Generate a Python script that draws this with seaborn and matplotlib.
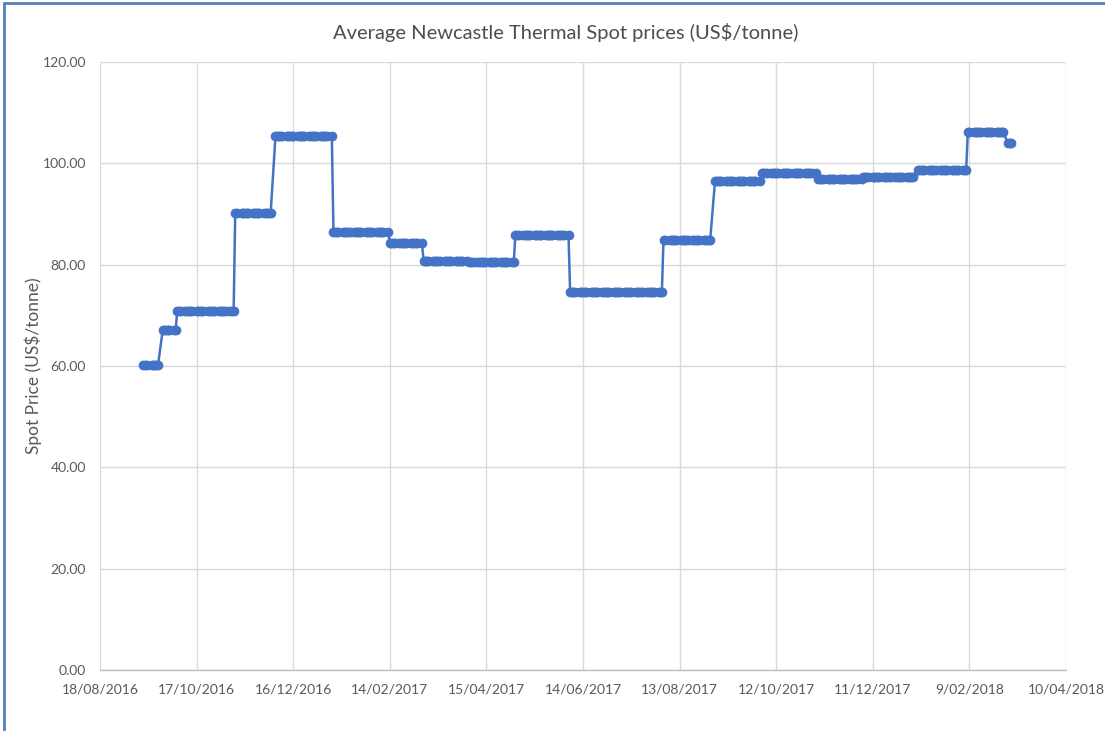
import pandas as pd
import numpy as np
import matplotlib
matplotlib.use("Agg")
import matplotlib.pyplot as plt
import matplotlib.dates as mdates
from matplotlib.ticker import FuncFormatter
import seaborn as sns

# ---------- DATA (step levels) ----------
# each level holds from its start date up to the day before the next start
start_dates = ["2016-09-14", "2016-09-26", "2016-10-05", "2016-11-10", "2016-12-05",
               "2017-01-10", "2017-02-14", "2017-03-07", "2017-04-04", "2017-05-03",
               "2017-06-06", "2017-08-03", "2017-09-04", "2017-10-03", "2017-11-07",
               "2017-12-05", "2018-01-08", "2018-02-08", "2018-03-05"]
last_date = "2018-03-07"
price_levels = [60.1, 67.2, 70.8, 90.2, 105.4,
                86.5, 84.2, 80.7, 80.5, 85.8,
                74.7, 84.9, 96.5, 98.0, 96.9,
                97.4, 98.7, 106.1, 104.0]

x_ticks = ["2016-08-18", "2016-10-17", "2016-12-16", "2017-02-14", "2017-04-15",
           "2017-06-14", "2017-08-13", "2017-10-12", "2017-12-11", "2018-02-09",
           "2018-04-10"]
y_ticks = [0, 20, 40, 60, 80, 100, 120]

# ---------- BUILD DAILY SERIES (business days) ----------
days = pd.bdate_range(start_dates[0], last_date)
starts = pd.to_datetime(start_dates)
idx = np.searchsorted(starts.values, days.values, side="right") - 1
df = pd.DataFrame({"Date": days, "Price": np.array(price_levels)[idx]})

# ---------- STYLE ----------
sns.set_style("white")
plt.rcParams["font.family"] = ["Lato", "DejaVu Sans"]
grey = "#595959"
blue = "#4472C4"

fig = plt.figure(figsize=(11.05, 7.31), dpi=100)
ax = fig.add_axes([100 / 1105, 1 - 670 / 731, 966 / 1105, 608 / 731])

sns.lineplot(data=df, x="Date", y="Price", ax=ax, color=blue, linewidth=1.8,
             marker="o", markersize=6.2, markeredgecolor=blue, markeredgewidth=0.8)

# ---------- AXES ----------
tick_dates = pd.to_datetime(x_ticks)
ax.set_xlim(tick_dates[0], tick_dates[-1])
ax.set_xticks(tick_dates)
ax.xaxis.set_major_formatter(FuncFormatter(
    lambda v, p: (lambda d: f"{d.day}/{d.month:02d}/{d.year}")(mdates.num2date(v))))
ax.set_ylim(0, 120)
ax.set_yticks(y_ticks)
ax.yaxis.set_major_formatter(FuncFormatter(lambda v, p: f"{v:.2f}"))

ax.grid(True, color="#d9d9d9", linewidth=1)
ax.set_axisbelow(True)
for s in ["top", "right", "left"]:
    ax.spines[s].set_visible(False)
ax.spines["bottom"].set_color("#bfbfbf")
ax.spines["bottom"].set_linewidth(1)
ax.tick_params(axis="both", length=0, colors=grey, labelsize=10)
ax.tick_params(axis="x", pad=10)
ax.tick_params(axis="y", pad=10)

ax.set_xlabel("")
ax.set_ylabel("Spot Price (US\\$/tonne)", color=grey, fontsize=12.5)
ax.yaxis.set_label_coords(-0.06, 0.5)
fig.text(0.512, 1 - 33 / 731, "Average Newcastle Thermal Spot prices (US\\$/tonne)",
         ha="center", va="center", fontsize=14.5, color="#4d4d4d")

# Excel chart frame (blue border at top and left)
fig.add_artist(plt.Line2D([4 / 1105, 4 / 1105], [0, 1 - 3 / 731], color="#4F81BD", linewidth=2))
fig.add_artist(plt.Line2D([4 / 1105, 1], [1 - 3 / 731, 1 - 3 / 731], color="#4F81BD", linewidth=2))

fig.savefig("out.png", dpi=100)
